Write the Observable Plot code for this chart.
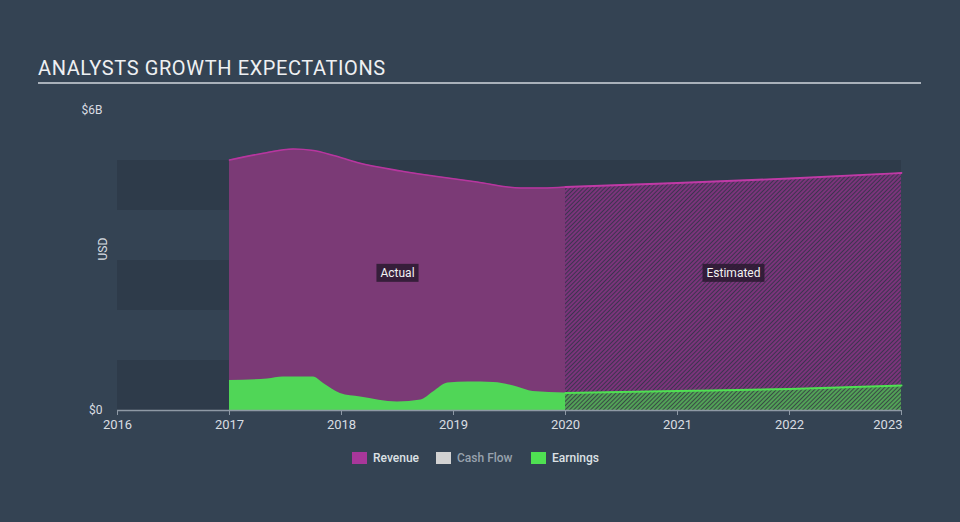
<!DOCTYPE html>
<html>
<head>
<meta charset="utf-8">
<script src="https://cdn.jsdelivr.net/npm/d3@7"></script>
<script src="https://cdn.jsdelivr.net/npm/@observablehq/plot@0.6"></script>
<style>
  html, body { margin: 0; padding: 0; background: #344353; }
  #wrap { position: relative; width: 960px; height: 522px; background: #344353; font-family: Roboto, "Open Sans", sans-serif; overflow: hidden; }
  #title { position: absolute; left: 38px; top: 56px; width: 883px; font-size: 20px; color: #eef0f2; letter-spacing: 0.6px; border-bottom: 2px solid #a9b1ba; padding-bottom: 2px; line-height: 24px; }
  #chart { position: absolute; left: 0; top: 0; }
  .leg { position: absolute; top: 451px; display: flex; align-items: center; font-size: 12px; font-weight: 500; color: #dde1e5; }
  .leg .sw { width: 15px; height: 12px; margin-right: 6px; }
  .leg.off { color: #98a2ad; }
</style>
</head>
<body>
<svg width="0" height="0" style="position:absolute">
  <defs>
    <pattern id="hatchRev" width="3" height="3" patternUnits="userSpaceOnUse" patternTransform="rotate(45)">
      <rect width="3" height="3" fill="#3c344f"></rect>
      <line x1="1" y1="0" x2="1" y2="3" stroke="#96338e" stroke-width="1.4"></line>
    </pattern>
    <pattern id="hatchEarn" width="3" height="3" patternUnits="userSpaceOnUse" patternTransform="rotate(45)">
      <rect width="3" height="3" fill="#394b45"></rect>
      <line x1="1" y1="0" x2="1" y2="3" stroke="#5cc65e" stroke-width="1.4"></line>
    </pattern>
  </defs>
</svg>
<div id="wrap">
  <div id="title">ANALYSTS GROWTH EXPECTATIONS</div>
  <div id="chart"></div>
  <div class="leg" style="left:352px"><div class="sw" style="background:#a8379a"></div>Revenue</div>
  <div class="leg off" style="left:436px"><div class="sw" style="background:#d2d2d2"></div>Cash Flow</div>
  <div class="leg" style="left:531px"><div class="sw" style="background:#4fe052"></div>Earnings</div>
</div>
<script>
// ---- data (values in US$ billions) ----
const revenueActualYears = [2017.0, 2017.29, 2017.57, 2017.75, 2017.93, 2018.14, 2018.53, 2018.82, 2019.21, 2019.6, 2019.8, 2020.0];
const revenueActual      = [5.01,   5.14,    5.23,    5.20,    5.10,    4.96,    4.79,    4.69,    4.57,    4.45,   4.45,   4.47];
const revenueEstYears    = [2020, 2021, 2022, 2023];
const revenueEst         = [4.47, 4.55, 4.64, 4.75];

const earningsActualYears = [2017.0, 2017.34, 2017.48, 2017.75, 2017.84, 2017.99, 2018.17, 2018.5, 2018.71, 2018.82, 2018.95, 2019.13, 2019.36, 2019.57, 2019.71, 2020.0];
const earningsActual      = [0.60,   0.63,    0.67,    0.67,    0.54,    0.34,    0.27,    0.17,   0.21,    0.37,    0.55,    0.57,    0.56,    0.47,    0.38,    0.35];
const earningsEstYears    = [2020, 2021, 2022, 2023];
const earningsEst         = [0.35, 0.39, 0.43, 0.50];

const xTicks = [2016, 2017, 2018, 2019, 2020, 2021, 2022, 2023];
const yTicks = [0, 6];
const yTickLabels = ["$0", "$6B"];
const bandLevels = [[0, 1], [2, 3], [4, 5]];
const periodLabels = [
  {label: "Actual", from: 2017, to: 2020},
  {label: "Estimated", from: 2020, to: 2023}
];
const labelLevel = 2.75;

// ---- build tables ----
const toRows = (xs, vs) => xs.map((x, i) => ({x, v: vs[i]}));
const revA = toRows(revenueActualYears, revenueActual);
const revE = toRows(revenueEstYears, revenueEst);
const earnA = toRows(earningsActualYears, earningsActual);
const earnE = toRows(earningsEstYears, earningsEst);
const xDomain = [xTicks[0], xTicks[xTicks.length - 1]];

const plot = Plot.plot({
  width: 960,
  height: 522,
  marginLeft: 117,
  marginRight: 59,
  marginTop: 110,
  marginBottom: 112,
  x: {domain: xDomain},
  y: {domain: [yTicks[0], yTicks[1]]},
  style: {background: "transparent", color: "#d9dde2", fontFamily: "Roboto, sans-serif", fontSize: "13px"},
  marks: [
    Plot.rect(bandLevels, {x1: () => xDomain[0], x2: () => xDomain[1], y1: d => d[0], y2: d => d[1], fill: "#2e3b4a"}),
    Plot.areaY(revA, {x: "x", y: "v", fill: "#7b3a76", curve: "monotone-x"}),
    Plot.areaY(revE, {x: "x", y: "v", fill: "url(#hatchRev)", curve: "monotone-x"}),
    Plot.lineY(revA, {x: "x", y: "v", stroke: "#b7369f", strokeWidth: 1.6, curve: "monotone-x"}),
    Plot.lineY(revE, {x: "x", y: "v", stroke: "#c03aa6", strokeWidth: 1.8, curve: "monotone-x"}),
    Plot.areaY(earnA, {x: "x", y: "v", fill: "#50d657", curve: "monotone-x"}),
    Plot.areaY(earnE, {x: "x", y: "v", fill: "url(#hatchEarn)", curve: "monotone-x"}),
    Plot.lineY(earnE, {x: "x", y: "v", stroke: "#4fe052", strokeWidth: 2, curve: "monotone-x"}),
    Plot.ruleY([0], {x1: () => xDomain[0], x2: () => xDomain[1], stroke: "#8e99a5", strokeWidth: 1.5}),
    Plot.axisX({ticks: xTicks, tickFormat: d => String(d), tickSize: 5, tickPadding: 4, stroke: "#8e99a5", label: null, fontSize: 13, className: "xax"}),
    Plot.axisY({ticks: yTicks, tickFormat: d => yTickLabels[yTicks.indexOf(d)], tickSize: 0, tickPadding: 15, label: null, fontSize: 12}),
    Plot.text(["USD"], {frameAnchor: "left", dx: -14, rotate: -90, text: d => d, fill: "#d9dde2", fontSize: 12}),
    Plot.text(periodLabels, {x: d => (d.from + d.to) / 2, y: () => labelLevel, text: "label", fill: "#f2f2f2", fontSize: 12, className: "period-label"})
  ]
});
document.getElementById("chart").appendChild(plot);

// last x tick label is right-aligned to the axis end, as in the reference
const xLabels = d3.select(plot).selectAll(".xax text").nodes();
if (xLabels.length) {
  const last = xLabels[xLabels.length - 1];
  last.setAttribute("text-anchor", "end");
  last.setAttribute("dx", "1");
}

// background boxes behind period labels
d3.select(plot).selectAll(".period-label text").each(function () {
  const b = this.getBBox();
  const t = this.getAttribute("transform");
  d3.select(this.parentNode).insert("rect", () => this)
    .attr("x", b.x - 4).attr("y", b.y - 2)
    .attr("width", b.width + 8).attr("height", b.height + 4)
    .attr("transform", t)
    .attr("fill", "#2a1a30").attr("fill-opacity", 0.85);
});
</script>
</body>
</html>
